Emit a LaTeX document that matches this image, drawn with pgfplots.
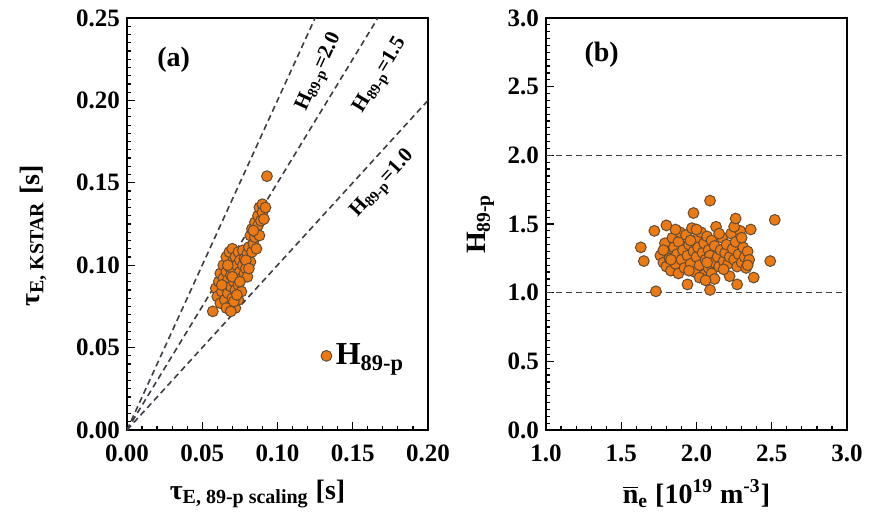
\documentclass[border=0pt]{standalone}
\usepackage{pgfplots}
\pgfplotsset{compat=1.18}
\usepackage{fontspec}
\setmainfont{Liberation Serif}
\definecolor{mfill}{RGB}{235,122,20}
\definecolor{mdraw}{RGB}{100,75,50}
\definecolor{dline}{RGB}{60,60,70}
\pgfplotsset{
  myax/.style={
    scale only axis, width=150.5pt, height=206pt,
    axis line style={line width=1.3pt},
    tick align=inside, tick pos=left,
    major tick length=4pt, minor tick length=2pt,
    every tick/.style={black, line width=0.6pt},
    font=\bfseries,
    tick label style={font=\fontsize{12.5}{14}\bfseries},
    xticklabel style={yshift=-4pt},
    label style={font=\fontsize{14}{16}\bfseries},
    /pgf/number format/assume math mode=true,
  },
  sc/.style={only marks, mark=*, mark size=2.7pt, mark options={fill=mfill, draw=mdraw, line width=0.5pt}},
}
\newcommand{\sub}[1]{\textsubscript{\fontsize{10}{12}\bfseries #1}}
\begin{document}
\begin{tikzpicture}
\useasboundingbox (-63.5pt,-45.5pt) rectangle (378.5pt,215pt);
\begin{axis}[myax,
  xmin=0, xmax=0.2, ymin=0, ymax=0.25,
  xtick={0,0.05,0.1,0.15,0.2}, ytick={0,0.05,0.1,0.15,0.2,0.25},
  minor x tick num=4, minor y tick num=9,
  xticklabel style={/pgf/number format/.cd, fixed, fixed zerofill, precision=2},
  yticklabel style={/pgf/number format/.cd, fixed, fixed zerofill, precision=2},
  scaled ticks=false,
  xlabel={τ\sub{E, 89-p scaling} [s]},
  ylabel={τ\sub{E, KSTAR} [s]},
  xlabel style={xshift=-10pt, yshift=-2pt},
  ylabel style={yshift=8pt, xshift=-6pt},
  legend style={at={(0.955,0.18)}, anchor=east, draw=none, fill=none, font=\fontsize{16}{18}\bfseries},
  legend image post style={xshift=-9pt},
  legend cell align=left,
]
\addplot[dline, densely dashed, line width=0.8pt, forget plot] coordinates {(0,0) (0.125,0.25)};
\addplot[dline, densely dashed, line width=0.8pt, forget plot] coordinates {(0,0) (0.16667,0.25)};
\addplot[dline, densely dashed, line width=0.8pt, forget plot] coordinates {(0,0) (0.2,0.2)};
\node[rotate=65.5, font=\fontsize{10.5}{12}\bfseries] at (axis cs:0.128,0.217) {H\textsubscript{89-p}=2.0};
\node[rotate=58.7, font=\fontsize{10.5}{12}\bfseries] at (axis cs:0.169,0.215) {H\textsubscript{89-p}=1.5};
\node[rotate=47.6, font=\fontsize{10.5}{12}\bfseries] at (axis cs:0.170,0.149) {H\textsubscript{89-p}=1.0};
\addplot[sc] coordinates {
(0.057,0.072) (0.059,0.086) (0.060,0.081) (0.061,0.090) (0.062,0.077) (0.062,0.095)
(0.063,0.084) (0.064,0.092) (0.064,0.100) (0.065,0.079) (0.065,0.088) (0.066,0.096)
(0.066,0.105) (0.067,0.083) (0.067,0.091) (0.068,0.075) (0.068,0.099) (0.068,0.108)
(0.069,0.087) (0.069,0.094) (0.070,0.080) (0.070,0.102) (0.070,0.110) (0.071,0.090)
(0.071,0.097) (0.072,0.074) (0.072,0.085) (0.072,0.105) (0.073,0.093) (0.073,0.100)
(0.074,0.079) (0.074,0.088) (0.074,0.108) (0.075,0.096) (0.075,0.103) (0.076,0.084)
(0.076,0.092) (0.077,0.100) (0.077,0.109) (0.078,0.095) (0.078,0.104) (0.079,0.098)
(0.080,0.107) (0.080,0.093) (0.081,0.111) (0.082,0.102) (0.082,0.118) (0.083,0.108)
(0.083,0.122) (0.084,0.113) (0.085,0.117) (0.085,0.126) (0.086,0.120) (0.086,0.110)
(0.087,0.124) (0.087,0.130) (0.088,0.118) (0.088,0.135) (0.089,0.127) (0.090,0.132)
(0.090,0.137) (0.091,0.128) (0.092,0.135) (0.093,0.154) (0.066,0.074) (0.069,0.072)
(0.071,0.078) (0.073,0.082) (0.063,0.088) (0.067,0.100) (0.070,0.093) (0.075,0.090)
(0.079,0.103) (0.081,0.098) (0.084,0.121)
};
\addlegendentry{H\textsubscript{89-p}}
\node[anchor=center, font=\fontsize{14}{16}\bfseries] at (axis cs:0.031,0.2245) {(a)};
\end{axis}
\begin{axis}[myax, at={(209.5pt,0pt)},
  xmin=1, xmax=3, ymin=0, ymax=3,
  xtick={1,1.5,2,2.5,3}, ytick={0,0.5,1,1.5,2,2.5,3},
  minor x tick num=4, minor y tick num=9,
  xticklabel style={/pgf/number format/.cd, fixed, fixed zerofill, precision=1},
  yticklabel style={/pgf/number format/.cd, fixed, fixed zerofill, precision=1},
  xlabel={$\overline{\mbox{n}}$\textsubscript{e} [10\textsuperscript{19} m\textsuperscript{-3}]},
  ylabel={H\textsubscript{89-p}},
  xlabel style={yshift=-2pt},
]
\addplot[dline, densely dashed, line width=0.8pt] coordinates {(1,2) (3,2)};
\addplot[dline, densely dashed, line width=0.8pt] coordinates {(1,1) (3,1)};
\addplot[sc] coordinates {
(1.76,1.27) (1.78,1.22) (1.79,1.36) (1.80,1.19) (1.81,1.30) (1.82,1.25) (1.83,1.16)
(1.84,1.40) (1.85,1.33) (1.86,1.21) (1.87,1.28) (1.88,1.14) (1.88,1.37) (1.89,1.44)
(1.90,1.24) (1.91,1.31) (1.92,1.18) (1.93,1.42) (1.94,1.27) (1.95,1.35) (1.96,1.21)
(1.97,1.47) (1.98,1.30) (1.99,1.15) (2.00,1.39) (2.00,1.26) (2.01,1.33) (2.02,1.20)
(2.03,1.44) (2.04,1.29) (2.05,1.36) (2.05,1.13) (2.06,1.24) (2.07,1.41) (2.08,1.18)
(2.08,1.31) (2.09,1.27) (2.10,1.38) (2.10,1.14) (2.11,1.22) (2.12,1.34) (2.13,1.48)
(2.14,1.26) (2.15,1.19) (2.16,1.31) (2.17,1.40) (2.18,1.23) (2.19,1.29) (2.20,1.35)
(2.21,1.21) (2.22,1.26) (2.23,1.43) (2.24,1.32) (2.25,1.24) (2.26,1.37) (2.27,1.19)
(2.28,1.28) (2.29,1.45) (2.30,1.22) (2.31,1.33) (2.32,1.26) (2.33,1.18) (2.34,1.30)
(2.35,1.24) (2.02,1.11) (1.96,1.38) (1.86,1.46) (2.12,1.10) (2.00,1.46) (2.25,1.48)
(2.30,1.40) (1.78,1.31) (1.83,1.24) (2.15,1.43) (2.07,1.22) (1.95,1.16) (2.22,1.12)
(2.18,1.17)
(1.63,1.33) (1.65,1.23) (1.73,1.01) (1.72,1.45) (1.80,1.49) (1.98,1.58) (2.09,1.67)
(2.26,1.54) (2.52,1.53) (2.49,1.23) (2.38,1.11) (2.36,1.46) (2.27,1.06) (1.94,1.06)
(2.09,1.02) (2.06,1.09) (2.34,1.20)
};
\node[anchor=center, font=\fontsize{14}{16}\bfseries] at (axis cs:1.37,2.73) {(b)};
\end{axis}
\end{tikzpicture}
\end{document}
